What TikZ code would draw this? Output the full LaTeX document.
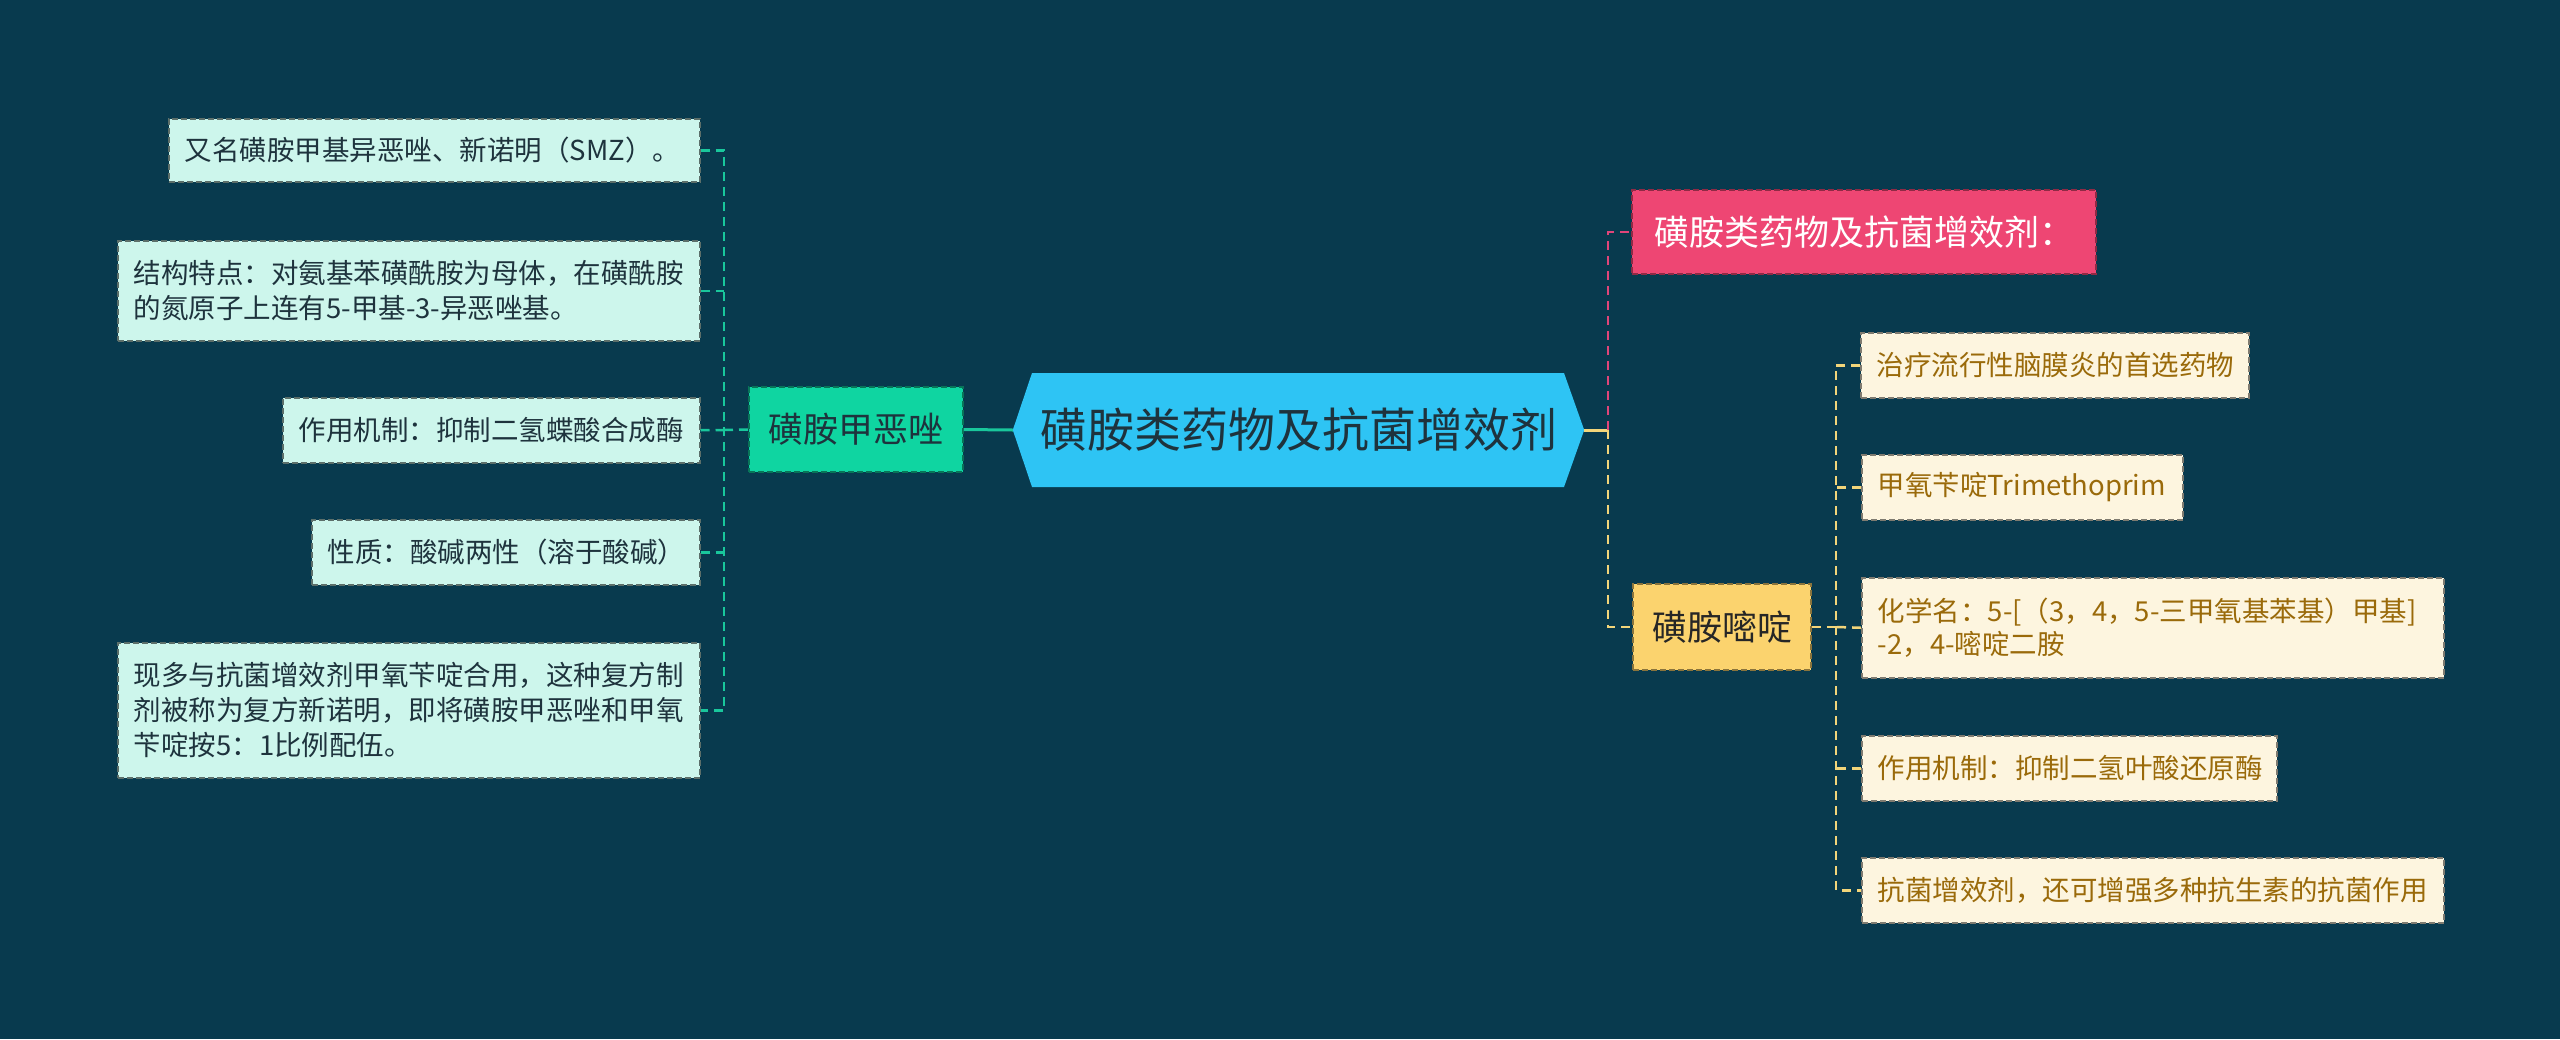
\documentclass[tikz,border=0pt]{standalone}
\usepackage{fontspec}
\setmainfont{Noto Sans CJK SC}
\definecolor{bg}{HTML}{083A4E}
\definecolor{rootfill}{HTML}{2EC4F4}
\definecolor{rootline}{HTML}{1D9FD0}
\definecolor{tealfill}{HTML}{0FD5A1}
\definecolor{tealline}{HTML}{19C79C}
\definecolor{lfill}{HTML}{CDF6EC}
\definecolor{ltext}{HTML}{1E333D}
\definecolor{pinkfill}{HTML}{EE4673}
\definecolor{pinkline}{HTML}{E0457A}
\definecolor{yelfill}{HTML}{FBD36E}
\definecolor{yelline}{HTML}{F2D57A}
\definecolor{cfill}{HTML}{FDF5DF}
\definecolor{ctext}{HTML}{9A6A0A}
\tikzset{
  boxbase/.style={rectangle, line width=1.5pt, dash pattern=on 6pt off 3pt, inner ysep=0pt},
  leftleaf/.style={boxbase, fill=lfill, draw=lfill!45!black, text=ltext, anchor=north west,
    inner xsep=16pt, align=left, font=\fontsize{27.5}{35}\selectfont},
  rightleaf/.style={boxbase, fill=cfill, draw=cfill!50!black, text=ctext, anchor=north west,
    inner xsep=16pt, align=left, font=\fontsize{27.5}{33}\selectfont},
  tealnode/.style={boxbase, fill=tealfill, draw=tealfill!55!black, text=ltext,
    minimum width=214pt, minimum height=85pt, font=\fontsize{35}{40}\selectfont},
  yelnode/.style={boxbase, fill=yelfill, draw=yelfill!55!black, text=black!85,
    minimum width=178pt, minimum height=86pt, font=\fontsize{35}{40}\selectfont},
  pinknode/.style={boxbase, fill=pinkfill, draw=pinkfill!60!black, text=white,
    minimum width=464pt, minimum height=84pt, font=\fontsize{35}{40}\selectfont},
  tealdash/.style={draw=tealline, line width=2.5pt, dash pattern=on 9pt off 6pt},
  pinkdash/.style={draw=pinkline, line width=2.5pt, dash pattern=on 9pt off 6pt},
  yeldash/.style={draw=yelline, line width=2.5pt, dash pattern=on 9pt off 6pt},
}
\begin{document}
\begin{tikzpicture}[x=1pt,y=-1pt]
\fill[bg] (0,0) rectangle (2560,1039);
\useasboundingbox (0,0) rectangle (2560,1039);

% root
\node (root) [rectangle, minimum width=571pt, minimum height=114pt, inner sep=0pt,
  text=ltext, font=\fontsize{47}{52}\selectfont] at (1298.5,430) {};
\fill[rootfill] (root.west) -- (1032,373) -- (1564,373) -- (root.east) -- (1564,487) -- (1032,487) -- cycle;
\node (roottext) [text=ltext, font=\fontsize{47}{52}\selectfont] at (root.center) {磺胺类药物及抗菌增效剂};

% left branch
\node (A) [tealnode] at (856,429.5) {磺胺甲恶唑};
\node (L1) [leftleaf, text width=499pt, minimum height=63pt] at (168,118) {又名磺胺甲基异恶唑、新诺明（SMZ）。};
\node (L2) [leftleaf, text width=550pt, minimum height=100pt] at (117,240) {结构特点：对氨基苯磺酰胺为母体，在磺酰胺\\的氮原子上连有5-甲基-3-异恶唑基。};
\node (L3) [leftleaf, text width=385pt, minimum height=65pt] at (282,397) {作用机制：抑制二氢蝶酸合成酶};
\node (L4) [leftleaf, text width=356pt, minimum height=65pt] at (311,519) {性质：酸碱两性（溶于酸碱）};
\node (L5) [leftleaf, text width=550pt, minimum height=135pt] at (117,642) {现多与抗菌增效剂甲氧苄啶合用，这种复方制\\剂被称为复方新诺明，即将磺胺甲恶唑和甲氧\\苄啶按5：1比例配伍。};

\coordinate (jl) at (724,430);
\draw[tealline, line width=3pt] (A.east) -- (root.west);
\draw[tealdash] (L1.east) -| (jl) |- (L5.east);
\draw[tealdash] (L2.east) -- (L2.east -| jl);
\draw[tealdash] (L3.east) -- (jl);
\draw[tealdash] (L4.east) -- (L4.east -| jl);
\draw[tealdash] (jl) -- (A.west);

% right branch
\node (P) [pinknode] at (1864,232) {磺胺类药物及抗菌增效剂：};
\node (B) [yelnode] at (1722,627) {磺胺嘧啶};
\node (R1) [rightleaf, text width=356pt, minimum height=65pt] at (1860,332) {治疗流行性脑膜炎的首选药物};
\node (R2) [rightleaf, text width=289pt, minimum height=65pt] at (1861,454) {甲氧苄啶Trimethoprim};
\node (R3) [rightleaf, text width=550pt, minimum height=100pt] at (1861,577) {化学名：5-[（3，4，5-三甲氧基苯基）甲基]\\-2，4-嘧啶二胺};
\node (R4) [rightleaf, text width=383pt, minimum height=65pt] at (1861,735) {作用机制：抑制二氢叶酸还原酶};
\node (R5) [rightleaf, text width=550pt, minimum height=65pt] at (1861,857) {抗菌增效剂，还可增强多种抗生素的抗菌作用};

\coordinate (jr) at (1608,430);
\coordinate (jb) at (1836,627);
\draw[yelline, line width=3pt] (root.east) -- (jr);
\draw[pinkdash] (jr) |- (P.west);
\draw[yeldash] (jr) |- (B.west);
\draw[yeldash] (B.east) -- (jb);
\draw[yeldash] (R1.west) -| (jb) |- (R5.west);
\draw[yeldash] (R2.west) -- (R2.west -| jb);
\draw[yeldash] (R3.west) -- (jb);
\draw[yeldash] (R4.west) -- (R4.west -| jb);
\end{tikzpicture}
\end{document}
